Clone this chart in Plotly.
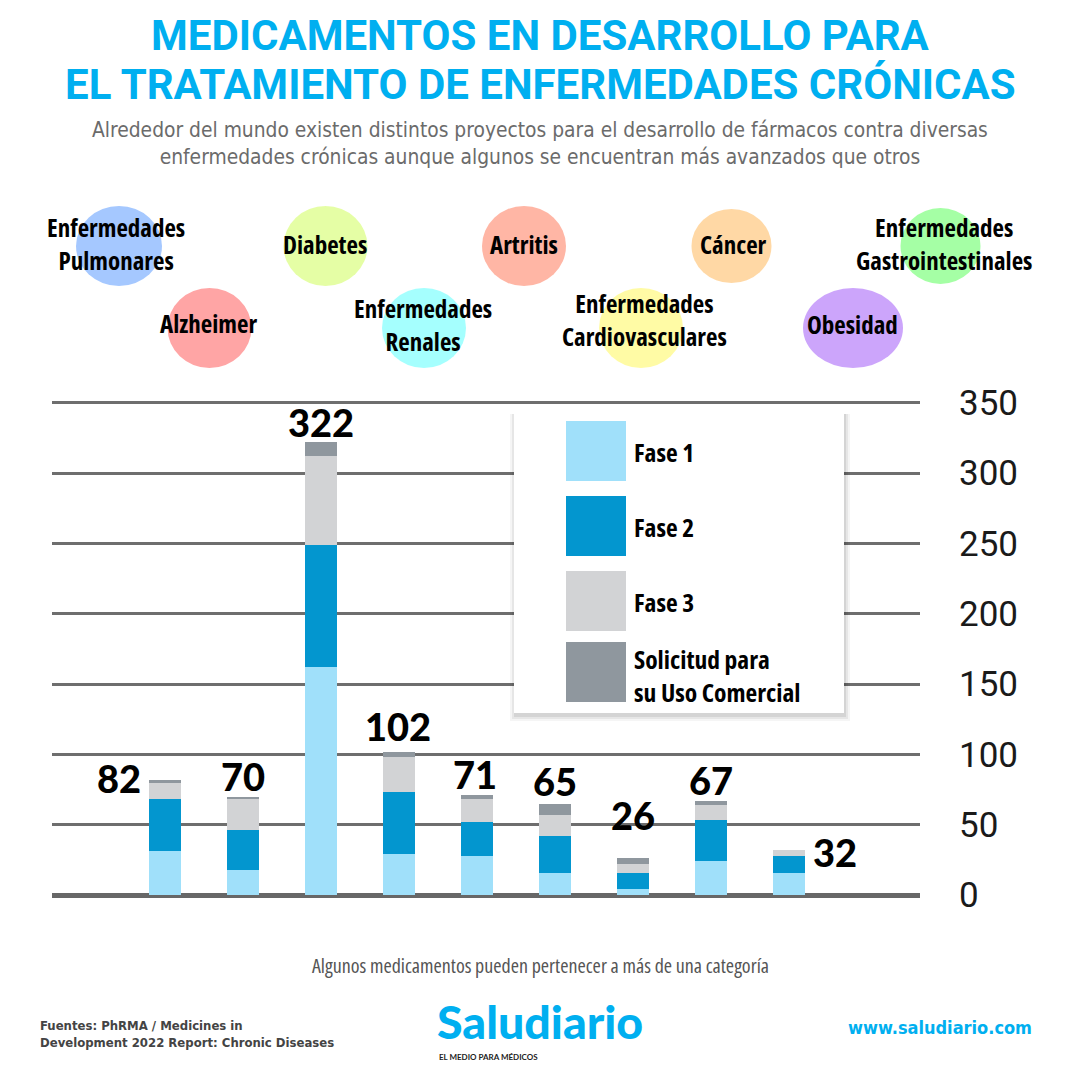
import plotly.graph_objects as go

# ---------------- data ----------------
CATEGORIES = ["Alzheimer", "Artritis", "Cáncer", "Enfermedades Cardiovasculares", "Diabetes",
              "Enfermedades Gastrointestinales", "Enfermedades Renales", "Enfermedades Pulmonares", "Obesidad"]
FASE1 = [31, 18, 162, 29, 28, 16, 4, 24, 16]
FASE2 = [37, 28, 87, 44, 24, 26, 12, 29, 12]
FASE3 = [12, 22, 63, 25, 16, 15, 6, 11, 4]
SOLICITUD = [2, 2, 10, 4, 3, 8, 4, 3, 0]
TOTALS = [82, 70, 322, 102, 71, 65, 26, 67, 32]
SERIES_NAMES = ["Fase 1", "Fase 2", "Fase 3", "Solicitud para<br>su Uso Comercial"]
Y_TICKS = [0, 50, 100, 150, 200, 250, 300, 350]

# ---------------- style ----------------
SERIES_COLORS = ["#a0e0fa", "#0396cf", "#d2d3d5", "#8f979e"]
CAT_COLORS = ["#ff7f7f", "#ff977f", "#ffc77f", "#fffa7f", "#dafd7f", "#7fff7f", "#7ffffd", "#7fb0ff", "#b77ffa"]
BLUE = "#00aff0"
COND = "DejaVu Sans Condensed, sans-serif"
OPEN = "Open Sans, DejaVu Sans Condensed, sans-serif"


def narrow(text, stretch="75%"):
    return "<br>".join('<span style="font-stretch:%s">%s</span>' % (stretch, t) for t in text.split("<br>"))


OFF = 8  # page body margin
W = H = 1072
L, T = 52 - OFF, 400 - OFF
R = W - (920 - OFF)
B = H - (895 - OFF)
PW, PH = W - L - R, H - T - B


def px(x):
    return (x - OFF - L) / PW


def py(y):
    return (H - B - (y - OFF)) / PH


x_idx = list(range(len(CATEGORIES)))

fig = go.Figure()
for vals, name, col in zip([FASE1, FASE2, FASE3, SOLICITUD], SERIES_NAMES, SERIES_COLORS):
    fig.add_trace(go.Bar(x=x_idx, y=vals, name=name.replace("<br>", " "), marker=dict(color=col, line=dict(width=0)),
                         width=0.41, showlegend=False, hovertext=CATEGORIES))

# category colour dots under the axis
fig.add_trace(go.Scatter(x=x_idx, y=[-19.5] * len(x_idx), mode="markers", cliponaxis=False, showlegend=False,
                         marker=dict(size=22, color=CAT_COLORS, line=dict(width=0)), hovertext=CATEGORIES))

shapes = []
annotations = []

# total labels
LABEL_SHIFT = [(-46, 2), (0, 21), (0, 20), (-1, 26), (-2, 21), (0, 23), (0, 43), (0, 21), (46, -2)]
for i, (tot, (dx, dy)) in enumerate(zip(TOTALS, LABEL_SHIFT)):
    annotations.append(dict(x=i, y=tot, xref="x", yref="y", text=str(tot), showarrow=False,
                            xshift=dx, yshift=dy, xanchor="center", yanchor="middle",
                            font=dict(family="Lato, Roboto, sans-serif", size=38, color="#000", weight=900)))

# bubbles (category key)
BUBBLES = [  # (category index, label, cx, cy, rx, ry, tx, ty)
    (7, "Enfermedades<br>Pulmonares", 119, 246, 43, 40, 116, 244),
    (0, "Alzheimer", 209.5, 328, 42, 40, 208, 323),
    (4, "Diabetes", 325.5, 246, 42, 40, 325, 244),
    (6, "Enfermedades<br>Renales", 424, 328, 42, 40, 423, 325),
    (1, "Artritis", 524, 246, 42, 40, 524, 244),
    (2, "Cáncer", 731.5, 246, 40, 37, 733, 244),
    (5, "Enfermedades<br>Gastrointestinales", 940.5, 246, 40, 38, 944, 244),
    (3, "Enfermedades<br>Cardiovasculares", 641, 328, 42, 40, 644, 319),
    (8, "Obesidad", 853, 328, 50, 40, 852, 324),
]
for ci, lab, cx, cy, rx, ry, tx, ty in BUBBLES:
    shapes.append(dict(type="circle", xref="paper", yref="paper", x0=px(cx - rx), x1=px(cx + rx),
                       y0=py(cy + ry), y1=py(cy - ry), fillcolor=CAT_COLORS[ci], opacity=0.7,
                       line=dict(width=0), layer="below"))
    annotations.append(dict(x=px(tx), y=py(ty), xref="paper", yref="paper", text=narrow(lab), showarrow=False,
                            xanchor="center", yanchor="middle",
                            font=dict(family=OPEN, size=25, color="#000", weight=700)))

# legend box with soft shadow
bx0, bx1, by0, by1 = 514, 844, 410, 713
for k, op in [(6, 0.04), (4, 0.06), (2, 0.08)]:
    shapes.append(dict(type="rect", xref="paper", yref="paper", x0=px(bx0 - k + 2), x1=px(bx1 + k),
                       y0=py(by1 + k + 2), y1=py(by0 + 4), fillcolor="#000", opacity=op,
                       line=dict(width=0), layer="above"))
shapes.append(dict(type="rect", xref="paper", yref="paper", x0=px(bx0), x1=px(bx1), y0=py(by1), y1=py(by0),
                   fillcolor="#fff", line=dict(width=0), layer="above"))
SW_TOP = [421, 496, 571, 642]
LEG_TY = [452, 527, 602, 675]
for name, col, st, ty in zip(SERIES_NAMES, SERIES_COLORS, SW_TOP, LEG_TY):
    shapes.append(dict(type="rect", xref="paper", yref="paper", x0=px(566), x1=px(626), y0=py(st + 60), y1=py(st),
                       fillcolor=col, line=dict(width=0), layer="above"))
    annotations.append(dict(x=px(632), y=py(ty), xref="paper", yref="paper", text=narrow(name), showarrow=False,
                            xanchor="left", yanchor="middle", align="left",
                            font=dict(family=OPEN, size=25.5, color="#000", weight=700)))

# titles and footer
TITLE_FONT = dict(family="Roboto, sans-serif", size=42, color=BLUE, weight=700)
annotations += [
    dict(x=px(540), y=py(35.5), xref="paper", yref="paper", text="MEDICAMENTOS EN DESARROLLO PARA", showarrow=False,
         xanchor="center", yanchor="middle", font=TITLE_FONT),
    dict(x=px(540), y=py(84.5), xref="paper", yref="paper", text="EL TRATAMIENTO DE ENFERMEDADES CRÓNICAS",
         showarrow=False, xanchor="center", yanchor="middle", font=TITLE_FONT),
    dict(x=px(540), y=py(143.5), xref="paper", yref="paper",
         text="Alrededor del mundo existen distintos proyectos para el desarrollo de fármacos contra diversas"
              "<br>enfermedades crónicas aunque algunos se encuentran más avanzados que otros",
         showarrow=False, xanchor="center", yanchor="middle", align="center",
         font=dict(family=COND, size=20.8, color="#6b6b6b")),
    dict(x=px(540), y=py(965), xref="paper", yref="paper",
         text=narrow("Algunos medicamentos pueden pertenecer a más de una categoría"),
         showarrow=False, xanchor="center", yanchor="middle", font=dict(family=OPEN, size=20, color="#555")),
    dict(x=px(38), y=py(1034), xref="paper", yref="paper",
         text="Fuentes: PhRMA / Medicines in<br>Development 2022 Report: Chronic Diseases",
         showarrow=False, xanchor="left", yanchor="middle", align="left",
         font=dict(family=COND, size=13, color="#444", weight=700)),
    dict(x=px(540), y=py(1021), xref="paper", yref="paper", text="Saludiario",
         showarrow=False, xanchor="center", yanchor="middle",
         font=dict(family="Lato, Roboto, sans-serif", size=46.5, color=BLUE, weight=900)),
    dict(x=px(437), y=py(1050), xref="paper", yref="paper", text="EL MEDIO PARA MÉDICOS",
         showarrow=False, xanchor="left", yanchor="top",
         font=dict(family="Lato, Roboto, sans-serif", size=8, color="#222", weight=700)),
    dict(x=px(1034), y=py(1027), xref="paper", yref="paper", text="www.saludiario.com",
         showarrow=False, xanchor="right", yanchor="middle",
         font=dict(family=COND, size=18, color=BLUE, weight=700)),
]

fig.update_layout(
    width=W, height=H, margin=dict(l=L, r=R, t=T, b=B),
    paper_bgcolor="#fff", plot_bgcolor="#fff", barmode="stack", bargap=0,
    showlegend=False, shapes=shapes, annotations=annotations,
    xaxis=dict(range=[-1.45, 9.68], showticklabels=False, showgrid=False, zeroline=False, fixedrange=True),
    yaxis=dict(range=[0, 352], side="right", tickvals=Y_TICKS, ticktext=[str(v) for v in Y_TICKS],
               showgrid=True, gridcolor="#6e6e6e", gridwidth=2.5, zeroline=True, zerolinecolor="#676767",
               zerolinewidth=5, ticks="", ticklabelstandoff=38, showline=False,
               tickfont=dict(family="Roboto, sans-serif", size=35, color="#1a1a1a")),
)

fig.write_html("out.html")
